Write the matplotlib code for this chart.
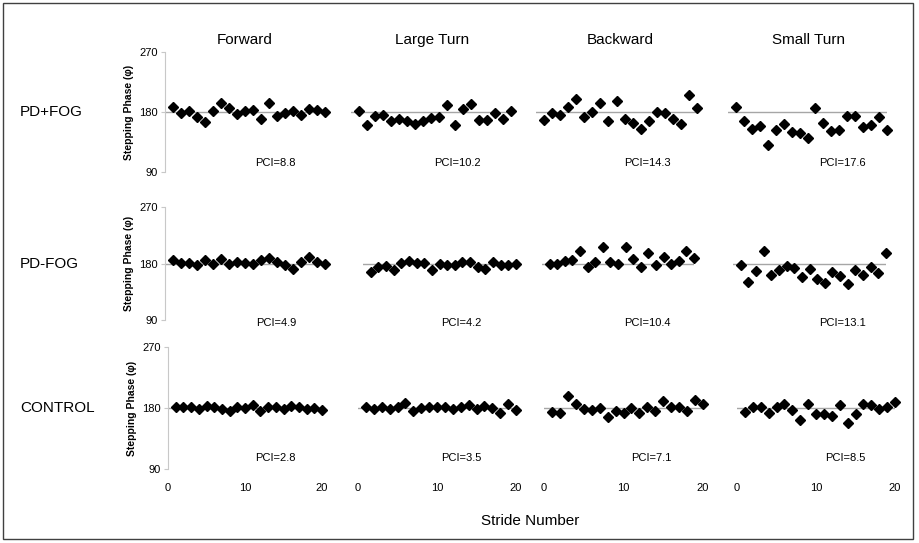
import matplotlib
matplotlib.use("Agg")
import matplotlib.pyplot as plt
from matplotlib.patches import Rectangle

plt.rcParams['font.family'] = ['Liberation Sans', 'DejaVu Sans']

strides = list(range(1, 21))
groups = ["PD+FOG", "PD-FOG", "CONTROL"]
tasks = ["Forward", "Large Turn", "Backward", "Small Turn"]

# stepping phase per stride
pdfog_fwd = [188, 178, 181, 172, 165, 181, 194, 186, 177, 182, 183, 170, 193, 174, 178, 181, 176, 184, 183, 180]
pdfog_lt = [182, 160, 174, 176, 166, 170, 167, 162, 166, 171, 172, 190, 161, 185, 192, 168, 168, 178, 170, 182]
pdfog_bwd = [168, 178, 175, 188, 199, 173, 180, 194, 166, 196, 169, 163, 154, 166, 180, 178, 169, 162, 206, 186]
pdfog_st = [187, 167, 155, 159, 130, 153, 162, 150, 148, 141, 186, 163, 152, 153, 174, 174, 157, 161, 173, 153]

nofog_fwd = [186, 181, 181, 178, 185, 180, 187, 180, 183, 181, 179, 185, 188, 183, 177, 171, 182, 190, 182, 179]
nofog_lt = [166, 175, 176, 169, 181, 184, 181, 181, 169, 180, 178, 177, 183, 182, 174, 172, 183, 177, 178, 180]
nofog_bwd = [179, 180, 184, 186, 200, 175, 182, 207, 182, 179, 206, 187, 174, 196, 178, 191, 180, 184, 200, 188]
nofog_st = [177, 150, 168, 200, 162, 170, 176, 173, 159, 172, 156, 149, 167, 160, 148, 170, 162, 175, 165, 197]

ctrl_fwd = [181, 181, 182, 179, 183, 181, 178, 175, 182, 180, 185, 175, 181, 181, 178, 183, 181, 178, 180, 177]
ctrl_lt = [182, 178, 181, 178, 181, 187, 175, 180, 181, 181, 181, 178, 181, 184, 178, 183, 180, 173, 186, 177]
ctrl_bwd = [174, 173, 198, 186, 178, 177, 180, 167, 176, 173, 180, 173, 182, 175, 190, 182, 182, 175, 192, 186]
ctrl_st = [174, 181, 181, 173, 182, 186, 177, 163, 186, 171, 171, 168, 184, 158, 171, 186, 184, 179, 182, 189]

phases = [
    [pdfog_fwd, pdfog_lt, pdfog_bwd, pdfog_st],
    [nofog_fwd, nofog_lt, nofog_bwd, nofog_st],
    [ctrl_fwd, ctrl_lt, ctrl_bwd, ctrl_st],
]
pci = [[8.8, 10.2, 14.3, 17.6],
       [4.9, 4.2, 10.4, 13.1],
       [2.8, 3.5, 7.1, 8.5]]

# layout in pixels
W, H = 919, 543
row_y = [(52, 172), (207, 320), (347, 469)]
col_x = [
    [(165, 325), (351, 511), (536, 697), (728, 887)],
    [(165, 325), (363, 516), (542, 694), (733, 886)],
    [(168, 322), (358, 516), (544, 703), (737, 895)],
]
pci_x = [296, 481, 671, 866]
pci_y = [163, 323, 458]
title_x = [245, 432, 620, 808]

fig = plt.figure(figsize=(W / 100, H / 100), dpi=100)


def fx(x):
    return x / W


def fy(y):
    return 1 - y / H


for r in range(3):
    y0, y1 = row_y[r]
    for c in range(4):
        x0, x1 = col_x[r][c]
        ax = fig.add_axes([fx(x0), fy(y1), fx(x1) - fx(x0), fy(y0) - fy(y1)])
        ax.set_xlim(0, 20)
        ax.set_ylim(90, 270)
        ax.patch.set_visible(False)
        for s in ax.spines.values():
            s.set_visible(False)
        ax.plot([0, 20], [180, 180], color="#a6a6a6", lw=1, zorder=1)
        ax.plot(strides, phases[r][c], "D", color="black", ms=5, zorder=3, clip_on=False)

        if c == 0:
            ax.spines["left"].set_visible(True)
            ax.spines["left"].set_color("#c8c8c8")
            ax.set_yticks([90, 180, 270])
            ax.tick_params(axis="y", length=3, color="#c8c8c8", labelsize=8, pad=2)
            ax.set_ylabel("Stepping Phase (\u03c6)", fontsize=7.5, fontweight="bold", labelpad=4)
        else:
            ax.set_yticks([])

        if r == 2:
            ax.set_xticks([0, 10, 20])
            ax.tick_params(axis="x", length=0, labelsize=8, pad=10)
        else:
            ax.set_xticks([])

        fig.text(fx(pci_x[c]), fy(pci_y[r]), "PCI=%.1f" % pci[r][c],
                 ha="right", va="center", fontsize=8)

    fig.text(fx(20), fy((y0 + y1) / 2), groups[r], ha="left", va="center", fontsize=11)

for c in range(4):
    fig.text(fx(title_x[c]), fy(40), tasks[c], ha="center", va="center", fontsize=11)

fig.text(fx(530), fy(521), "Stride Number", ha="center", va="center", fontsize=11)

fig.patches.append(Rectangle((fx(3), fy(539)), fx(913) - fx(3), fy(3) - fy(539),
                             transform=fig.transFigure, fill=False,
                             edgecolor="#404040", lw=1))

fig.savefig("out.png", dpi=100)
